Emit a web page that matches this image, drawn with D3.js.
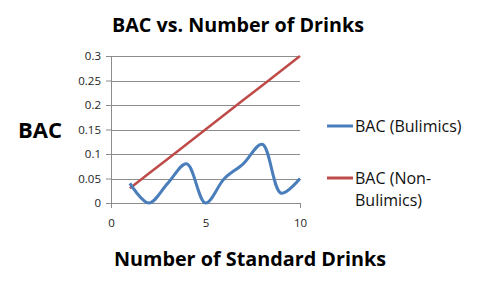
<!DOCTYPE html>
<html>
<head>
<meta charset="utf-8">
<script src="https://cdn.jsdelivr.net/npm/d3@7"></script>
<style>
  body{margin:0;background:#fff;}
  svg{display:block;}
</style>
</head>
<body>
<svg id="chart"></svg>
<script>
var drinks = [1,2,3,4,5,6,7,8,9,10];
var bulimics = [0.04,0,0.04,0.08,0,0.05,0.08,0.12,0.02,0.05];
var nonBulimics = [0.03,0.06,0.09,0.12,0.15,0.18,0.21,0.24,0.27,0.3];
var xTicks = [0,5,10];
var yTicks = [0,0.05,0.1,0.15,0.2,0.25,0.3];
var seriesNames = ["BAC (Bulimics)",["BAC (Non-","Bulimics)"]];

var width=477, height=286;
var margin={top:56,bot:83,left:111,right:177};
var font="'Open Sans', 'DejaVu Sans', sans-serif";

var svg=d3.select("#chart").attr("width",width).attr("height",height);

var xScale=d3.scaleLinear().domain([0,10]).range([margin.left,width-margin.right]);
var yScale=d3.scaleLinear().domain([0,0.3]).range([height-margin.bot,margin.top]);

// gridlines
svg.append("g").selectAll("line")
   .data(yTicks.slice(1))
   .enter().append("line")
   .attr("x1",xScale(0)).attr("x2",xScale(10))
   .attr("y1",function(d){return Math.round(yScale(d))+0.5;})
   .attr("y2",function(d){return Math.round(yScale(d))+0.5;})
   .attr("stroke","#8c8c8c").attr("stroke-width",1);

var yAxis=d3.axisLeft(yScale).tickValues(yTicks).tickSize(5).tickPadding(5)
            .tickFormat(function(d){return d3.format("")(+d.toFixed(2));});
var xAxis=d3.axisBottom(xScale).tickValues(xTicks).tickSize(5).tickPadding(11)
            .tickFormat(d3.format("d"));

var gy=svg.append("g").attr("transform","translate("+xScale(0)+",0)").call(yAxis);
var gx=svg.append("g").attr("transform","translate(0,"+yScale(0)+")").call(xAxis);
[gx,gy].forEach(function(g){
  g.selectAll("path,line").attr("stroke","#8c8c8c");
  g.selectAll("text").attr("font-family",font).attr("font-size","11.5px").attr("fill","#222");
});
// only the end ticks are drawn on the x axis
gx.selectAll(".tick line").filter(function(d){return d===5;}).remove();

var lineMaker=d3.line()
   .x(function(d){return xScale(d.x);})
   .y(function(d){return yScale(d.y);});

svg.append("path")
   .attr("d",lineMaker.curve(d3.curveLinear)(drinks.map(function(d,i){return {x:d,y:nonBulimics[i]};})))
   .attr("stroke","#be4b48").attr("stroke-width",2.5).attr("fill","none");

svg.append("path")
   .attr("d",lineMaker.curve(d3.curveCatmullRom.alpha(0.5))(drinks.map(function(d,i){return {x:d,y:bulimics[i]};})))
   .attr("stroke","#4a7ebb").attr("stroke-width",3).attr("fill","none");

// titles
svg.append("text").attr("x",238).attr("y",32).attr("text-anchor","middle")
   .attr("font-family",font).attr("font-weight","bold").attr("font-size","19.7px")
   .text("BAC vs. Number of Drinks");
svg.append("text").attr("x",40).attr("y",138).attr("text-anchor","middle")
   .attr("font-family",font).attr("font-weight","bold").attr("font-size","22px")
   .text("BAC");
svg.append("text").attr("x",250).attr("y",266).attr("text-anchor","middle")
   .attr("font-family",font).attr("font-weight","bold").attr("font-size","19.8px")
   .text("Number of Standard Drinks");

// legend
var legendColors=["#4a7ebb","#be4b48"];
var legendY=[126,178];
seriesNames.forEach(function(name,i){
  svg.append("line").attr("x1",327).attr("x2",353)
     .attr("y1",legendY[i]).attr("y2",legendY[i])
     .attr("stroke",legendColors[i]).attr("stroke-width",3);
  var lines=Array.isArray(name)?name:[name];
  var t=svg.append("text").attr("font-family",font).attr("font-size","16px").attr("fill","#111");
  lines.forEach(function(l,j){
    t.append("tspan").attr("x",355).attr("y",legendY[i]+6+j*22).text(l);
  });
});
</script>
</body>
</html>
